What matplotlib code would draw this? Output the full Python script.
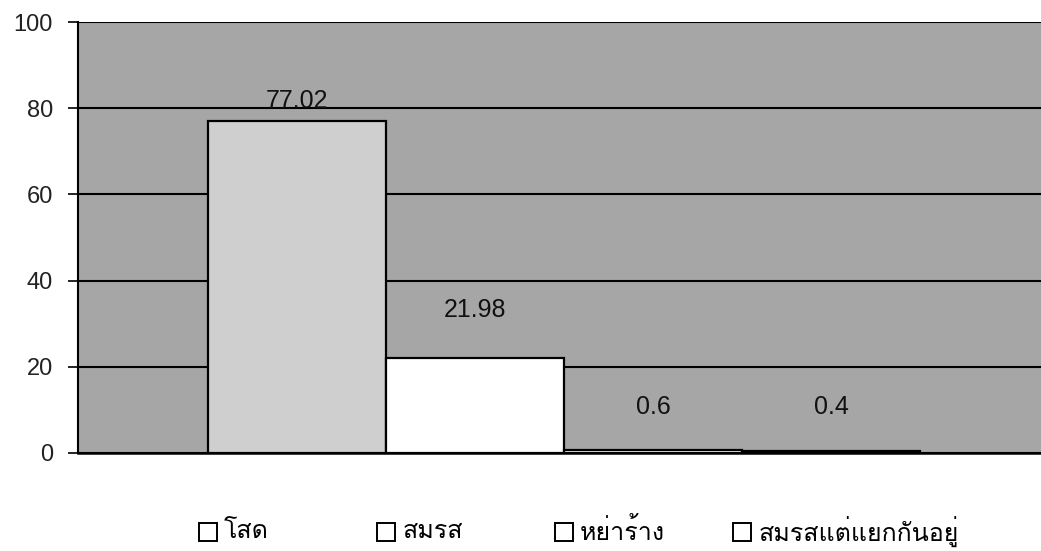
import matplotlib
matplotlib.use("Agg")
import matplotlib.pyplot as plt
from matplotlib import font_manager
from matplotlib.ft2font import FT2Font
from matplotlib.transforms import blended_transform_factory

# data
categories = ["โสด", "สมรส", "หย่าร้าง", "สมรสแต่แยกกันอยู่"]
values = [77.02, 21.98, 0.6, 0.4]
value_labels = ["77.02", "21.98", "0.6", "0.4"]
yticks = [0, 20, 40, 60, 80, 100]

bar_colors = ["#cfcfcf", "white", "white", "white"]
label_pad = [4.7, 11.2, 10.1, 10.3]   # how high each value label sits above its bar


def find_thai_family():
    # look for any installed font that actually has Thai glyphs
    for f in font_manager.fontManager.ttflist:
        try:
            if 0x0E2A in FT2Font(f.fname).get_charmap():
                return f.name
        except Exception:
            pass
    return "DejaVu Sans"


thai = find_thai_family()
plt.rcParams["font.family"] = ["Liberation Sans", thai, "DejaVu Sans"]

fig = plt.figure(figsize=(10.41, 5.51), dpi=100)
ax = fig.add_axes([0.0749, 0.178, 0.934, 0.782])
ax.set_facecolor("#a6a6a6")

x = list(range(len(values)))
ax.bar(x, values, width=1.0, color=bar_colors, edgecolor="black",
       linewidth=1.6, zorder=3)

ax.set_xlim(-1.23, 4.23)
ax.set_ylim(0, 100)
ax.set_yticks(yticks)
ax.set_xticks([])
ax.yaxis.grid(True, color="black", linewidth=1.5, zorder=1)
ax.set_axisbelow(True)
ax.tick_params(axis="y", direction="out", length=7, width=1.2,
               labelsize=17, pad=11, labelcolor="#222222")
for s in ["top", "right"]:
    ax.spines[s].set_visible(False)
ax.spines["left"].set_linewidth(1.5)
ax.spines["bottom"].set_linewidth(1.8)

for xi, v, lab, pad in zip(x, values, value_labels, label_pad):
    ax.text(xi, v + pad, lab, ha="center", va="center", fontsize=18,
            color="#111111", zorder=4)

# legend entries sit under the left edge of each bar
tr = blended_transform_factory(ax.transData, fig.transFigure)
for xi, cat in zip(x, categories):
    ax.plot([xi - 0.5], [0.034], marker="s", markersize=13,
            markerfacecolor="white", markeredgecolor="black",
            markeredgewidth=1.4, transform=tr, clip_on=False)
    ax.text(xi - 0.41, 0.036, cat, transform=tr, ha="left", va="center",
            fontsize=18, family=[thai, "DejaVu Sans"])

fig.savefig("out.png", dpi=100)
